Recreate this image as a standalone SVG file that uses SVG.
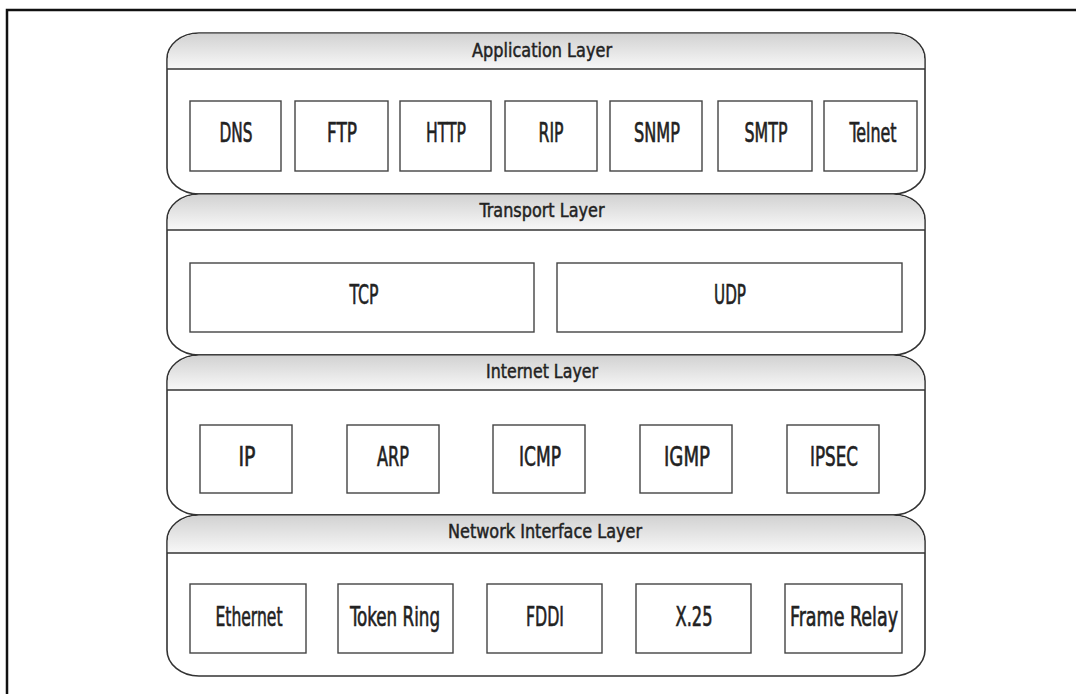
<svg xmlns="http://www.w3.org/2000/svg" width="1076" height="694" viewBox="0 0 1076 694">
  <defs>
    <linearGradient id="hdr" x1="0" y1="0" x2="0" y2="1">
      <stop offset="0" stop-color="#d2d2d2"/>
      <stop offset="1" stop-color="#f8f8f8"/>
    </linearGradient>
    <style>
      .layer { fill: #ffffff; stroke: #333333; stroke-width: 1.6; }
      .band { fill: url(#hdr); stroke: none; }
      .hline { stroke: #333333; stroke-width: 1.6; fill: none; }
      .box { fill: #ffffff; stroke: #444444; stroke-width: 1.4; }
      .htxt { font-family: "DejaVu Sans Condensed", "DejaVu Sans", sans-serif; font-size: 19px; fill: #222222; stroke: #222222; stroke-width: 0.45; text-anchor: middle; }
      .btxt { font-family: "DejaVu Sans Condensed", "DejaVu Sans", sans-serif; font-size: 26px; fill: #222222; stroke: #222222; stroke-width: 0.6; text-anchor: middle; }
      .frame { stroke: #111111; stroke-width: 2.5; fill: none; }
    </style>
  </defs>
  <rect width="1076" height="694" fill="#ffffff"/>
  <path class="frame" d="M7,694 L7,10 L1076,10"/>

  <g id="application-layer">
    <rect class="layer" x="167" y="33" width="758" height="161" rx="32" ry="26"/>
    <path class="band" d="M167.8,69 L167.8,59 A31 25 0 0 1 199,33.8 L893,33.8 A31 25 0 0 1 924.2,59 L924.2,69 Z"/>
    <line class="hline" x1="167" y1="69" x2="925" y2="69"/>
    <text class="htxt" x="542" y="57" textLength="140" lengthAdjust="spacingAndGlyphs">Application Layer</text>
    <g id="dns"><rect class="box" x="190" y="101" width="91" height="70"/><text class="btxt" x="236" y="142" textLength="33" lengthAdjust="spacingAndGlyphs">DNS</text></g>
    <g id="ftp"><rect class="box" x="295" y="101" width="93" height="70"/><text class="btxt" x="342" y="142" textLength="30" lengthAdjust="spacingAndGlyphs">FTP</text></g>
    <g id="http"><rect class="box" x="400" y="101" width="91" height="70"/><text class="btxt" x="446" y="142" textLength="40" lengthAdjust="spacingAndGlyphs">HTTP</text></g>
    <g id="rip"><rect class="box" x="505" y="101" width="92" height="70"/><text class="btxt" x="551" y="142" textLength="25" lengthAdjust="spacingAndGlyphs">RIP</text></g>
    <g id="snmp"><rect class="box" x="610" y="101" width="92" height="70"/><text class="btxt" x="657" y="142" textLength="46" lengthAdjust="spacingAndGlyphs">SNMP</text></g>
    <g id="smtp"><rect class="box" x="718" y="101" width="94" height="70"/><text class="btxt" x="766" y="142" textLength="43" lengthAdjust="spacingAndGlyphs">SMTP</text></g>
    <g id="telnet"><rect class="box" x="824" y="101" width="93" height="70"/><text class="btxt" x="873" y="142" textLength="47" lengthAdjust="spacingAndGlyphs">Telnet</text></g>
  </g>

  <g id="transport-layer">
    <rect class="layer" x="167" y="194" width="758" height="161" rx="32" ry="26"/>
    <path class="band" d="M167.8,230 L167.8,220 A31 25 0 0 1 199,194.8 L893,194.8 A31 25 0 0 1 924.2,220 L924.2,230 Z"/>
    <line class="hline" x1="167" y1="230" x2="925" y2="230"/>
    <text class="htxt" x="542" y="217" textLength="125" lengthAdjust="spacingAndGlyphs">Transport Layer</text>
    <g id="tcp"><rect class="box" x="190" y="263" width="344" height="69"/><text class="btxt" x="364" y="304" textLength="29" lengthAdjust="spacingAndGlyphs">TCP</text></g>
    <g id="udp"><rect class="box" x="557" y="263" width="345" height="69"/><text class="btxt" x="730" y="304" textLength="32" lengthAdjust="spacingAndGlyphs">UDP</text></g>
  </g>

  <g id="internet-layer">
    <rect class="layer" x="167" y="355" width="758" height="160" rx="32" ry="26"/>
    <path class="band" d="M167.8,390 L167.8,381 A31 25 0 0 1 199,355.8 L893,355.8 A31 25 0 0 1 924.2,381 L924.2,390 Z"/>
    <line class="hline" x1="167" y1="390" x2="925" y2="390"/>
    <text class="htxt" x="542" y="378" textLength="112" lengthAdjust="spacingAndGlyphs">Internet Layer</text>
    <g id="ip"><rect class="box" x="200" y="425" width="92" height="68"/><text class="btxt" x="247" y="466" textLength="17" lengthAdjust="spacingAndGlyphs">IP</text></g>
    <g id="arp"><rect class="box" x="347" y="425" width="92" height="68"/><text class="btxt" x="393" y="466" textLength="32" lengthAdjust="spacingAndGlyphs">ARP</text></g>
    <g id="icmp"><rect class="box" x="493" y="425" width="92" height="68"/><text class="btxt" x="540" y="466" textLength="42" lengthAdjust="spacingAndGlyphs">ICMP</text></g>
    <g id="igmp"><rect class="box" x="640" y="425" width="92" height="68"/><text class="btxt" x="687" y="466" textLength="46" lengthAdjust="spacingAndGlyphs">IGMP</text></g>
    <g id="ipsec"><rect class="box" x="787" y="425" width="92" height="68"/><text class="btxt" x="834" y="466" textLength="48" lengthAdjust="spacingAndGlyphs">IPSEC</text></g>
  </g>

  <g id="network-interface-layer">
    <rect class="layer" x="167" y="515" width="758" height="161" rx="32" ry="26"/>
    <path class="band" d="M167.8,553 L167.8,541 A31 25 0 0 1 199,515.8 L893,515.8 A31 25 0 0 1 924.2,541 L924.2,553 Z"/>
    <line class="hline" x1="167" y1="553" x2="925" y2="553"/>
    <text class="htxt" x="545" y="538" textLength="194" lengthAdjust="spacingAndGlyphs">Network Interface Layer</text>
    <g id="ethernet"><rect class="box" x="190" y="584" width="116" height="69"/><text class="btxt" x="249" y="626" textLength="67" lengthAdjust="spacingAndGlyphs">Ethernet</text></g>
    <g id="token-ring"><rect class="box" x="338" y="584" width="115" height="69"/><text class="btxt" x="395" y="626" textLength="90" lengthAdjust="spacingAndGlyphs">Token Ring</text></g>
    <g id="fddi"><rect class="box" x="487" y="584" width="115" height="69"/><text class="btxt" x="545" y="626" textLength="38" lengthAdjust="spacingAndGlyphs">FDDI</text></g>
    <g id="x25"><rect class="box" x="636" y="584" width="115" height="69"/><text class="btxt" x="694" y="626" textLength="37" lengthAdjust="spacingAndGlyphs">X.25</text></g>
    <g id="frame-relay"><rect class="box" x="785" y="584" width="117" height="69"/><text class="btxt" x="844" y="626" textLength="108" lengthAdjust="spacingAndGlyphs">Frame Relay</text></g>
  </g>

  <g id="connectors"></g>
</svg>
